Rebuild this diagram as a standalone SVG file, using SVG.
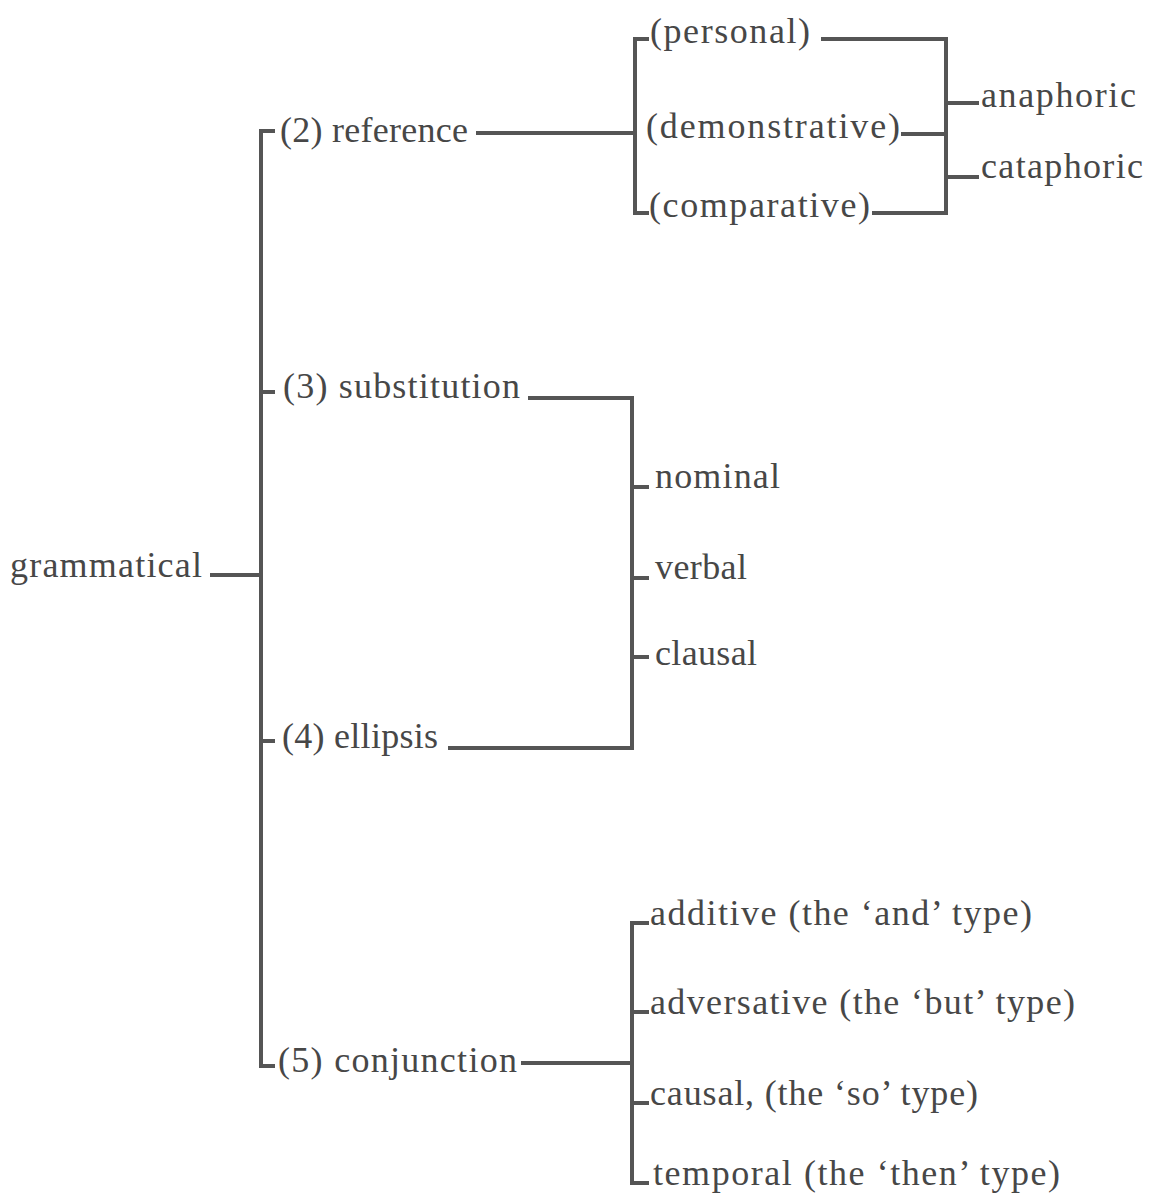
<svg xmlns="http://www.w3.org/2000/svg" width="1149" height="1194" viewBox="0 0 1149 1194">
<style>
text{font-family:"Liberation Serif","Times New Roman",serif;font-size:36px;fill:#474747}
.c line{stroke:#555;stroke-width:4;stroke-linecap:square}
</style>
<rect width="1149" height="1194" fill="#fff"/>
<g id="connectors" class="c">
<line x1="212" y1="575" x2="261" y2="575"/>
<line x1="261" y1="131" x2="261" y2="1066"/>
<line x1="261" y1="131" x2="273" y2="131"/>
<line x1="261" y1="392" x2="273" y2="392"/>
<line x1="261" y1="741" x2="273" y2="741"/>
<line x1="261" y1="1066" x2="273" y2="1066"/>
<line x1="478" y1="133" x2="635" y2="133"/>
<line x1="635" y1="39" x2="635" y2="213"/>
<line x1="635" y1="39" x2="647" y2="39"/>
<line x1="635" y1="213" x2="647" y2="213"/>
<line x1="823" y1="39" x2="946" y2="39"/>
<line x1="903" y1="134" x2="946" y2="134"/>
<line x1="874" y1="213" x2="946" y2="213"/>
<line x1="946" y1="39" x2="946" y2="213"/>
<line x1="946" y1="103" x2="977" y2="103"/>
<line x1="946" y1="177" x2="977" y2="177"/>
<line x1="530" y1="398" x2="632" y2="398"/>
<line x1="632" y1="398" x2="632" y2="748"/>
<line x1="450" y1="748" x2="632" y2="748"/>
<line x1="632" y1="487" x2="647" y2="487"/>
<line x1="632" y1="578" x2="647" y2="578"/>
<line x1="632" y1="657" x2="647" y2="657"/>
<line x1="523" y1="1063" x2="632" y2="1063"/>
<line x1="632" y1="923" x2="632" y2="1183"/>
<line x1="632" y1="923" x2="647" y2="923"/>
<line x1="632" y1="1012" x2="647" y2="1012"/>
<line x1="632" y1="1103" x2="647" y2="1103"/>
<line x1="632" y1="1183" x2="647" y2="1183"/>
</g>
<g id="grammatical"><text x="10" y="577" textLength="192" lengthAdjust="spacing">grammatical</text></g>
<g id="reference"><text x="280" y="142" textLength="188" lengthAdjust="spacing">(2) reference</text></g>
<g id="personal"><text x="650" y="43" textLength="160" lengthAdjust="spacing">(personal)</text></g>
<g id="demonstrative"><text x="646" y="138" textLength="254" lengthAdjust="spacing">(demonstrative)</text></g>
<g id="comparative"><text x="649" y="217" textLength="221" lengthAdjust="spacing">(comparative)</text></g>
<g id="anaphoric"><text x="981" y="107" textLength="155" lengthAdjust="spacing">anaphoric</text></g>
<g id="cataphoric"><text x="981" y="178" textLength="162" lengthAdjust="spacing">cataphoric</text></g>
<g id="substitution"><text x="283" y="398" textLength="237" lengthAdjust="spacing">(3) substitution</text></g>
<g id="nominal"><text x="655" y="488" textLength="125" lengthAdjust="spacing">nominal</text></g>
<g id="verbal"><text x="655" y="579" textLength="92" lengthAdjust="spacing">verbal</text></g>
<g id="clausal"><text x="655" y="665" textLength="102" lengthAdjust="spacing">clausal</text></g>
<g id="ellipsis"><text x="282" y="748" textLength="156" lengthAdjust="spacing">(4) ellipsis</text></g>
<g id="conjunction"><text x="278" y="1072" textLength="239" lengthAdjust="spacing">(5) conjunction</text></g>
<g id="additive"><text x="650" y="925" textLength="382" lengthAdjust="spacing">additive (the ‘and’ type)</text></g>
<g id="adversative"><text x="650" y="1014" textLength="425" lengthAdjust="spacing">adversative (the ‘but’ type)</text></g>
<g id="causal"><text x="650" y="1105" textLength="328" lengthAdjust="spacing">causal, (the ‘so’ type)</text></g>
<g id="temporal"><text x="653" y="1185" textLength="407" lengthAdjust="spacing">temporal (the ‘then’ type)</text></g>
</svg>
